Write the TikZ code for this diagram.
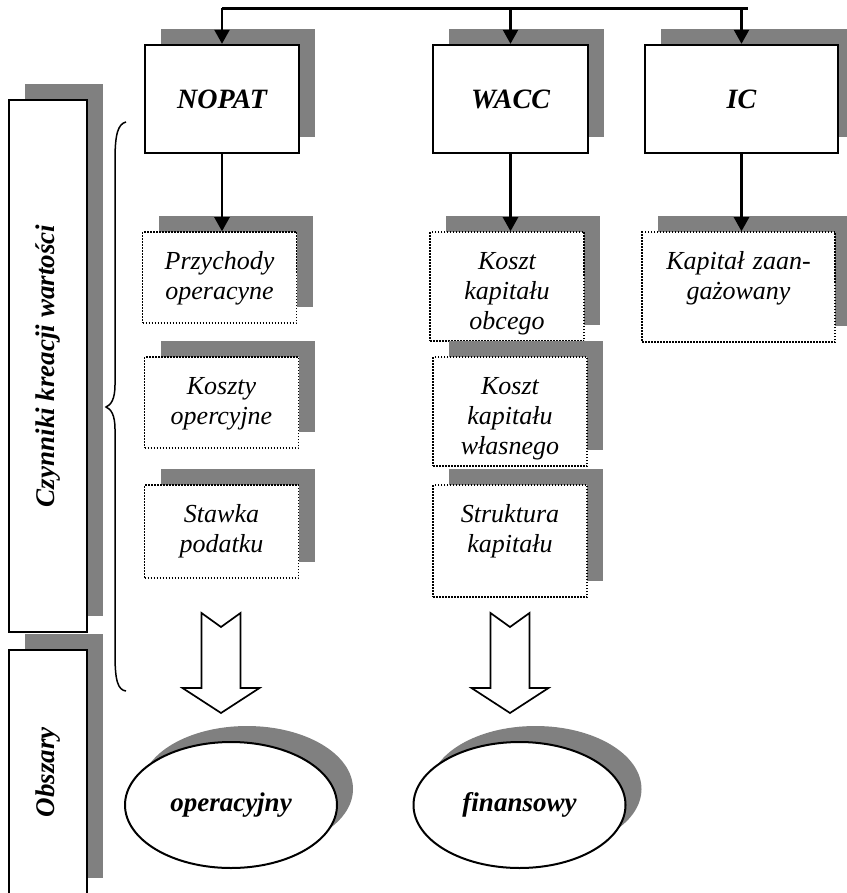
\documentclass[tikz,border=0pt]{standalone}
\usepackage{fontspec}
\setmainfont{Liberation Serif}
\usetikzlibrary{arrows.meta,shadows,shapes.geometric}

\tikzset{
  shade box/.style={drop shadow={shadow xshift=16pt,shadow yshift=16pt,fill=black!50,opacity=1}},
  headbox/.style={shade box,draw,fill=white,line width=2.4pt,minimum height=108pt,inner sep=0pt,
    font=\fontsize{28}{32}\selectfont\bfseries\itshape},
  factorbox/.style={shade box,draw,fill=white,line width=1.5pt,dash pattern=on 1.5pt off 1.5pt,
    text width=150pt,align=center,inner xsep=2pt,inner ysep=0pt,text height=37pt,
    font=\fontsize{26}{30}\selectfont\itshape},
  sidebox/.style={shade box,draw,fill=white,line width=2.4pt,minimum width=78pt,inner sep=0pt,
    font=\fontsize{27}{30}\selectfont\bfseries\itshape},
  areaoval/.style={ellipse,shade box,draw,fill=white,line width=2pt,minimum width=212pt,
    minimum height=126pt,inner sep=0pt,font=\fontsize{27}{30}\selectfont\bfseries\itshape},
  arr/.style={line width=2.2pt,-{Triangle[length=14pt,width=15pt]}},
  pics/hollowarrow/.style={code={
    \draw[line width=1.7pt,fill=white] (-19.5,0) -- (0,14) -- (19.5,0) -- (19.5,75) -- (38.5,75)
      -- (0,100) -- (-38.5,75) -- (-19.5,75) -- cycle;}}
}

\begin{document}
\begin{tikzpicture}[x=1pt,y=-1pt]
  \useasboundingbox (0,0) rectangle (846,893);

  % left side labels
  \node[sidebox,minimum height=532pt] (czynniki) at (48,366) {\rotatebox{90}{Czynniki kreacji wartości}};
  \node[sidebox,minimum height=244pt] (obszary) at (48,772) {\rotatebox{90}{Obszary}};

  % value drivers
  \node[headbox,minimum width=154pt] (NOPAT) at (222,99) {NOPAT};
  \node[headbox,minimum width=155pt] (WACC) at (510.5,99) {WACC};
  \node[headbox,minimum width=193pt] (IC) at (741.5,99) {IC};

  \node[factorbox,text depth=54pt] (przychody) at (219.5,277.5) {Przychody\\operacyne};
  \node[factorbox,text depth=54pt] (koszty) at (221.5,402.5) {Koszty\\opercyjne};
  \node[factorbox,text depth=56pt] (stawka) at (221.5,531.5) {Stawka\\podatku};

  \node[factorbox,text depth=72pt] (obcy) at (507,286.5) {Koszt\\kapitału\\obcego};
  \node[factorbox,text depth=72pt] (wlasny) at (510,411.5) {Koszt\\kapitału\\własnego};
  \node[factorbox,text depth=75pt] (struktura) at (510,541) {Struktura\\kapitału};

  \node[factorbox,text width=189pt,text depth=73pt] (kapital) at (738.5,287) {Kapitał zaan-\\gażowany};

  % connectors
  \coordinate (bus) at (222,8.5);
  \coordinate (busend) at (748,8.5);
  \draw[line width=2.2pt] (bus) -- (busend);
  \draw[arr] (bus) -- (NOPAT.north);
  \draw[arr] (WACC.north |- bus) -- (WACC.north);
  \draw[arr] (IC.north |- bus) -- (IC.north);

  \draw[arr] (NOPAT.south) -- (NOPAT.south |- przychody.north);
  \draw[arr] (WACC.south) -- (WACC.south |- obcy.north);
  \draw[arr] (IC.south) -- (IC.south |- kapital.north);

  % brace
  \draw[line width=1.5pt] (126,122) .. controls (118,124) and (115,134) .. (115,160) -- (115,385)
    .. controls (115,399) and (111,405) .. (106,407) .. controls (111,409) and (115,415) .. (115,429)
    -- (115,655) .. controls (115,681) and (118,690) .. (126,691);

  % areas
  \pic at (221,613) {hollowarrow};
  \pic at (510,613) {hollowarrow};
  \node[areaoval] (operacyjny) at (231,805) {operacyjny};
  \node[areaoval] (finansowy) at (519.5,805) {finansowy};
\end{tikzpicture}
\end{document}
